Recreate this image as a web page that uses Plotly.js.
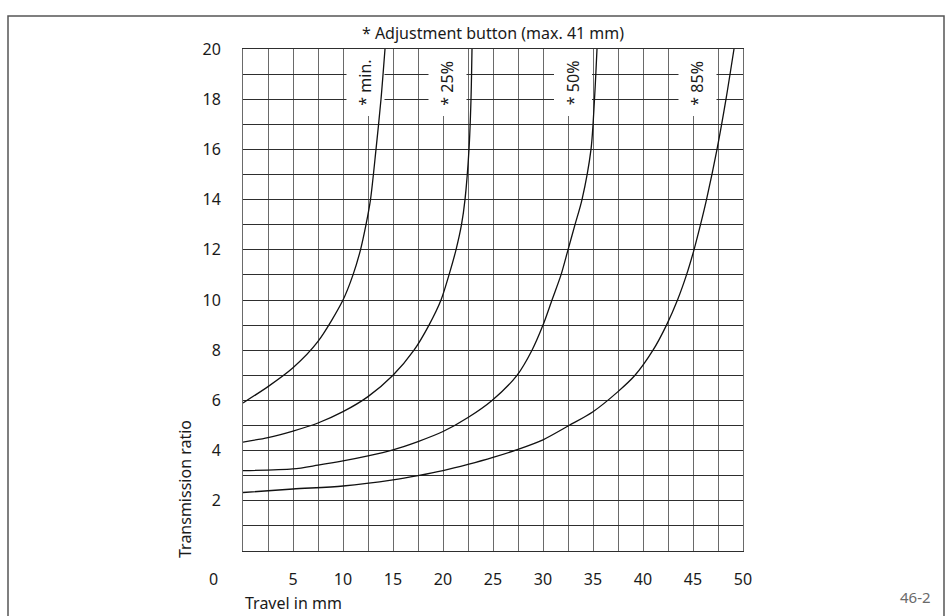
<!DOCTYPE html>
<html>
<head>
<meta charset="utf-8">
<script src="https://cdn.plot.ly/plotly-3.0.1.min.js"></script>
<style>
html, body { margin: 0; padding: 0; background: #ffffff; }
#chart { width: 952px; height: 616px; }
</style>
</head>
<body>
<div id="chart"></div>
<script>
// ---- data ----
const xTickValues = [5, 10, 15, 20, 25, 30, 35, 40, 45, 50];
const xTickLabels = ['5', '10', '15', '20', '25', '30', '35', '40', '45', '50'];
const yTickValues = [2, 4, 6, 8, 10, 12, 14, 16, 18, 20];
const yTickLabels = ['2', '4', '6', '8', '10', '12', '14', '16', '18', '20'];

const curveNames = ['* min.', '* 25%', '* 50%', '* 85%'];

const minX = [0, 2.5, 5, 7.5, 10, 11, 11.75, 12.3, 12.75, 13.3, 13.8, 14.2];
const minY = [5.9, 6.55, 7.3, 8.35, 10.0, 11, 12, 13, 14, 16, 18, 20];

const p25X = [0, 2.5, 5, 7.5, 10, 12.5, 15, 17.1, 18.6, 19.8, 20.6, 21.3, 21.85, 22.2, 22.6, 22.8, 22.9];
const p25Y = [4.34, 4.52, 4.78, 5.1, 5.55, 6.15, 7.0, 8, 9, 10, 11, 12, 13, 14, 16, 18, 20];

const p50X = [0, 5, 7.5, 10, 12.5, 15, 17.5, 20, 22.5, 24.9, 27.4, 28.9, 30.0, 30.9, 31.8, 32.5, 33.2, 33.9, 34.8, 35.15, 35.4];
const p50Y = [3.2, 3.27, 3.42, 3.59, 3.79, 4.03, 4.36, 4.76, 5.32, 6, 7, 8, 9, 10, 11, 12, 13, 14, 16, 18, 20];

const p85X = [0, 5, 10, 15, 17.5, 20, 22.5, 25, 27.5, 30, 32.6, 35, 37.5, 39.2, 41, 42.35, 43.45, 44.35, 45.1, 45.75, 46.35, 47.4, 48.3, 49.1];
const p85Y = [2.33, 2.47, 2.59, 2.83, 3.0, 3.2, 3.45, 3.73, 4.05, 4.43, 5.0, 5.55, 6.35, 7, 8, 9, 10, 11, 12, 13, 14, 16, 18, 20];

// ---- styling / layout config ----
const FONT = 'Noto Sans, Open Sans, DejaVu Sans, sans-serif';
const TEXT = '#1a1a1a';
const HGRID = '#2e2e2e';
const VGRID = '#6a6a6a';
const X_GRID_STEP = 2.5;
const Y_GRID_STEP = 1;
const labelCenterX = [12.25, 20.45, 33.0, 45.45];
const labelCenterY = 18.64;
const labelBoxHalfW = 1.9;
const labelBoxBottom = 17.33;

// grid ticks: every grid step, labelled only where a label exists
function gridTicks(max, step, vals, labels) {
  const tv = [], tt = [];
  for (let k = 0; k * step <= max + 1e-9; k++) {
    const v = +(k * step).toFixed(4);
    tv.push(v);
    const idx = vals.indexOf(v);
    tt.push(idx >= 0 ? labels[idx] : '');
  }
  return { tv, tt };
}
const xg = gridTicks(50, X_GRID_STEP, xTickValues, xTickLabels);
const yg = gridTicks(20, Y_GRID_STEP, yTickValues, yTickLabels);

const series = [[minX, minY], [p25X, p25Y], [p50X, p50Y], [p85X, p85Y]];
const traces = series.map((s, i) => ({
  type: 'scatter',
  mode: 'lines',
  x: s[0],
  y: s[1],
  name: curveNames[i],
  line: { color: '#111111', width: 1.3, shape: 'spline', smoothing: 0.8 },
  hoverinfo: 'skip',
  showlegend: false
}));

const shapes = [];
// outer frame
shapes.push({
  type: 'rect', xref: 'paper', yref: 'paper',
  x0: -0.47, x1: 1.402, y0: -0.2, y1: 1.0657,
  line: { color: '#555555', width: 1.5 }, fillcolor: 'rgba(0,0,0,0)', layer: 'above'
});
// white backgrounds behind the curve labels (interrupt the grid)
labelCenterX.forEach(cx => {
  shapes.push({
    type: 'rect', xref: 'x', yref: 'y',
    x0: cx - labelBoxHalfW, x1: cx + labelBoxHalfW, y0: labelBoxBottom, y1: 20,
    line: { width: 0 }, fillcolor: '#ffffff', layer: 'between'
  });
});

const annotations = [];
curveNames.forEach((name, i) => {
  annotations.push({
    xref: 'x', yref: 'y', x: labelCenterX[i], y: labelCenterY,
    text: name, textangle: -90, showarrow: false,
    xanchor: 'center', yanchor: 'middle',
    font: { family: FONT, size: 16, color: TEXT }
  });
});
annotations.push({
  xref: 'paper', yref: 'paper', x: -0.06, y: -0.0558,
  text: '0', showarrow: false, xanchor: 'center', yanchor: 'middle',
  font: { family: FONT, size: 16, color: TEXT }
});
annotations.push({
  xref: 'paper', yref: 'paper', x: 0, y: -0.1036,
  text: 'Travel in mm', showarrow: false, xanchor: 'left', yanchor: 'middle',
  font: { family: FONT, size: 16, color: TEXT }
});
annotations.push({
  xref: 'paper', yref: 'paper', x: -0.116, y: 0.1235,
  text: 'Transmission ratio', textangle: -90, showarrow: false,
  xanchor: 'center', yanchor: 'middle',
  font: { family: FONT, size: 16, color: TEXT }
});
annotations.push({
  xref: 'paper', yref: 'paper', x: 1.344, y: -0.0916,
  text: '46-2', showarrow: false, xanchor: 'center', yanchor: 'middle',
  font: { family: FONT, size: 15, color: '#6a6a6a' }
});

const layout = {
  width: 952,
  height: 616,
  margin: { l: 243, r: 209, t: 49, b: 65, pad: 0 },
  paper_bgcolor: '#ffffff',
  plot_bgcolor: '#ffffff',
  showlegend: false,
  title: {
    text: '* Adjustment button (max. 41 mm)',
    x: 0.5, xref: 'paper', xanchor: 'center',
    y: 1 - 33 / 616, yref: 'container', yanchor: 'middle',
    font: { family: FONT, size: 16, color: TEXT }
  },
  xaxis: {
    range: [0, 50],
    tickmode: 'array', tickvals: xg.tv, ticktext: xg.tt,
    ticks: '', ticklabelstandoff: 14,
    tickfont: { family: FONT, size: 16, color: TEXT },
    showgrid: true, gridcolor: VGRID, gridwidth: 1,
    showline: true, linecolor: HGRID, linewidth: 1, mirror: true,
    zeroline: false, fixedrange: true
  },
  yaxis: {
    range: [0, 20],
    tickmode: 'array', tickvals: yg.tv, ticktext: yg.tt,
    ticks: '', ticklabelstandoff: 18,
    tickfont: { family: FONT, size: 16, color: TEXT },
    showgrid: true, gridcolor: HGRID, gridwidth: 1,
    showline: true, linecolor: VGRID, linewidth: 1, mirror: true,
    zeroline: false, fixedrange: true
  },
  shapes: shapes,
  annotations: annotations
};

Plotly.newPlot('chart', traces, layout, { displayModeBar: false, responsive: false });
</script>
</body>
</html>
